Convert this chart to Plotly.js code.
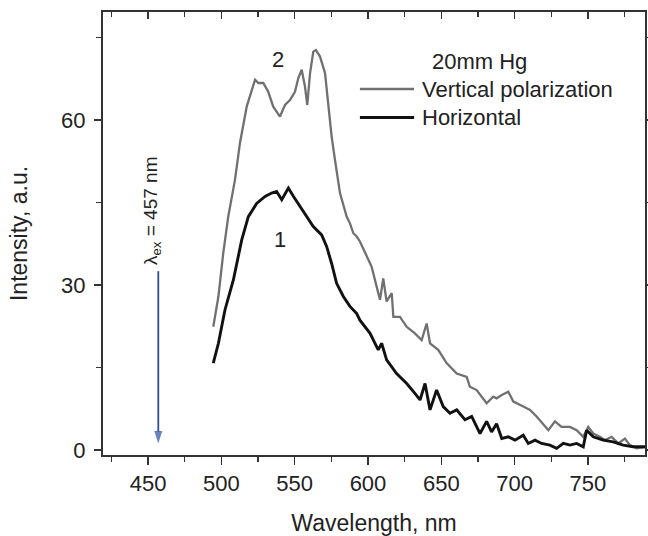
<!DOCTYPE html>
<html>
<head>
<meta charset="utf-8">
<script src="https://cdn.plot.ly/plotly-3.0.1.min.js"></script>
<style>html,body{margin:0;padding:0;background:#fff;}#chart{width:648px;height:536px;}</style>
</head>
<body>
<div id="chart"></div>
<script>
// Vertical polarization (curve 2)
const vertWl = [494.5,498,501.3,504.7,509.3,512.7,517.3,523,525.2,528.6,532,535.4,540,543.4,546.8,550.2,552.5,554.8,557,558.6,560.5,562.7,564.5,567.3,570.7,572.9,575.2,577.5,580.9,585.5,587.7,590,592.3,594.5,598,602.5,605.9,608.2,610.4,612.7,616.2,617.3,621.8,626.4,632,636.6,640,642.3,647.9,653.6,660.5,667.3,669.5,674.1,680.9,683.2,685.4,687.7,691.2,695.7,699.1,705.9,710.5,715,719.5,723,727.5,732,737.7,742.3,746.8,750.2,753.6,758.2,761.6,766.1,770.7,775.2,778.6,783.2,790];
const vertI  = [22.4,27.9,35.8,42.4,49.1,55.8,62.4,67.3,66.7,66.7,65.1,62.4,60.6,62.7,63.6,65.1,67.6,69.1,66.1,62.7,68.5,72.4,72.7,71.5,68.5,62.4,57,52.7,46.7,42.4,41.2,39.4,38.8,37.9,35.8,33.3,29.7,27.3,31.2,27,28.5,24.2,24.2,22.4,21.2,20,23,19.4,18.2,15.8,13.9,13.3,11.5,10.9,8.5,9.1,9.7,9.4,10,10.6,8.8,7.9,7.3,6.1,4.8,3.6,5.2,4.2,4.2,3.6,2.4,4.2,3.0,2.4,1.8,2.4,1.2,2.1,0.9,0.3,0.6];
// Horizontal polarization (curve 1)
const horWl = [494.5,498,502.5,508.2,513.9,518.4,524.1,529.8,534.3,537.7,541.2,545.7,549.1,553.6,558.2,562.7,568.4,571.8,575.2,578.6,583.2,587.7,592.3,594.5,601.4,607,609.3,612.7,619.5,626.4,632,635.5,638.9,642.3,646.8,651.3,655.9,660.5,666.1,670.7,676.4,680.9,684.3,687.7,691.2,695.7,700.2,705.9,709.3,713.9,718.4,724.1,728.6,733.2,737.7,742.3,746.8,749.1,753.6,760.4,767.2,774,780.8,790];
const horI  = [15.8,19.4,25.5,30.9,38.2,42.4,44.8,46.1,46.7,47,45.5,47.6,46.1,44.2,42.4,40.6,39.1,37,33.9,30.3,27.9,26.1,24.8,23.6,21.2,18.2,19.4,16.4,13.9,12.1,10.3,9.1,12.1,7.3,10.9,7.9,6.7,7.3,5.5,6.1,3.0,5.2,3.3,4.8,2.1,2.4,1.8,2.7,1.2,1.8,1.2,0.9,0.3,1.2,0.9,1.2,0.6,3.6,2.4,1.8,1.5,0.9,0.6,0.6];

const xTicks = [450,500,550,600,650,700,750];
const yTicks = [0,30,60];
const seriesNames = ['Vertical polarization','Horizontal'];
const legendTitle = '20mm Hg';
const excitation = 457;
const arrowY = [32.5, 1.2];

const FONT = 'Liberation Sans, Arial, sans-serif';
const TXT = '#222';
const GRAY = '#707070';
const BLACK = '#111';
const BLUE = '#2d4f9e';

const traces = [
  {x: vertWl, y: vertI, type: 'scatter', mode: 'lines', name: seriesNames[0], line: {color: GRAY, width: 2.3}},
  {x: horWl, y: horI, type: 'scatter', mode: 'lines', name: seriesNames[1], line: {color: BLACK, width: 2.9}},
  {x: [excitation, excitation], y: arrowY, type: 'scatter', mode: 'lines+markers', showlegend: false,
   line: {color: BLUE, width: 1.8},
   marker: {symbol: 'arrow', angleref: 'previous', size: [0, 13], color: BLUE, line: {width: 0}}},
  {x: [], y: [], xaxis: 'x2', yaxis: 'y', showlegend: false, hoverinfo: 'skip'}
];

const xr = [419.3, 788.9];
const yr = [-0.9, 79.6];

const layout = {
  width: 648, height: 536,
  margin: {l: 103, r: 3, t: 12, b: 81},
  paper_bgcolor: '#fff', plot_bgcolor: '#fff',
  showlegend: false,
  font: {family: FONT, size: 22, color: TXT},
  xaxis: {
    range: xr, tickvals: xTicks, ticks: 'outside', ticklen: 8, tickwidth: 1.5, tickcolor: '#333',
    minor: {dtick: 25, tick0: 0, ticks: 'outside', ticklen: 5, tickwidth: 1.5, tickcolor: '#333'},
    showline: true, linecolor: '#333', linewidth: 2, mirror: true, showgrid: false, zeroline: false,
    tickfont: {size: 22, color: TXT, family: FONT}, ticklabelstandoff: 0,
    title: {text: 'Wavelength, nm', font: {size: 23, color: TXT, family: FONT}, standoff: 32}
  },
  xaxis2: {
    range: xr, overlaying: 'x', side: 'top', anchor: 'y', tickvals: xTicks, ticks: 'inside', ticklen: 7, tickwidth: 1.5, tickcolor: '#333',
    minor: {dtick: 25, tick0: 0, ticks: 'inside', ticklen: 5, tickwidth: 1.5, tickcolor: '#333'},
    showticklabels: false, showline: false, showgrid: false, zeroline: false
  },
  yaxis: {
    range: yr, tickvals: yTicks, ticks: 'outside', ticklen: 7, tickwidth: 1.5, tickcolor: '#333',
    minor: {dtick: 15, tick0: 0, ticks: 'outside', ticklen: 5, tickwidth: 1.5, tickcolor: '#333'},
    showline: true, linecolor: '#333', linewidth: 2, mirror: 'ticks', showgrid: false, zeroline: false,
    tickfont: {size: 22, color: TXT, family: FONT}, ticklabelstandoff: 4,
    title: {text: 'Intensity, a.u.', font: {size: 23, color: TXT, family: FONT}, standoff: 27}
  },
  shapes: [
    {type: 'line', xref: 'paper', yref: 'paper', x0: 0.474, x1: 0.574, y0: 0.826, y1: 0.826, line: {color: GRAY, width: 2.5}},
    {type: 'line', xref: 'paper', yref: 'paper', x0: 0.474, x1: 0.574, y0: 0.762, y1: 0.762, line: {color: BLACK, width: 3}}
  ],
  annotations: [
    {xref: 'paper', yref: 'paper', x: 0.603, y: 0.888, xanchor: 'left', yanchor: 'middle', text: legendTitle, showarrow: false, font: {size: 22, color: TXT}},
    {xref: 'paper', yref: 'paper', x: 0.585, y: 0.826, xanchor: 'left', yanchor: 'middle', text: seriesNames[0], showarrow: false, font: {size: 22, color: TXT}},
    {xref: 'paper', yref: 'paper', x: 0.585, y: 0.762, xanchor: 'left', yanchor: 'middle', text: seriesNames[1], showarrow: false, font: {size: 22, color: TXT}},
    {x: 538.6, y: 70.9, text: '2', showarrow: false, font: {size: 22, color: TXT}},
    {x: 540, y: 38.2, text: '1', showarrow: false, font: {size: 22, color: TXT}},
    {x: 452.7, y: 43.6, text: 'λ<sub>ex</sub> = ' + excitation + ' nm', textangle: -90, showarrow: false, font: {size: 19, color: TXT}}
  ]
};

Plotly.newPlot('chart', traces, layout, {staticPlot: true, displayModeBar: false});
</script>
</body>
</html>
